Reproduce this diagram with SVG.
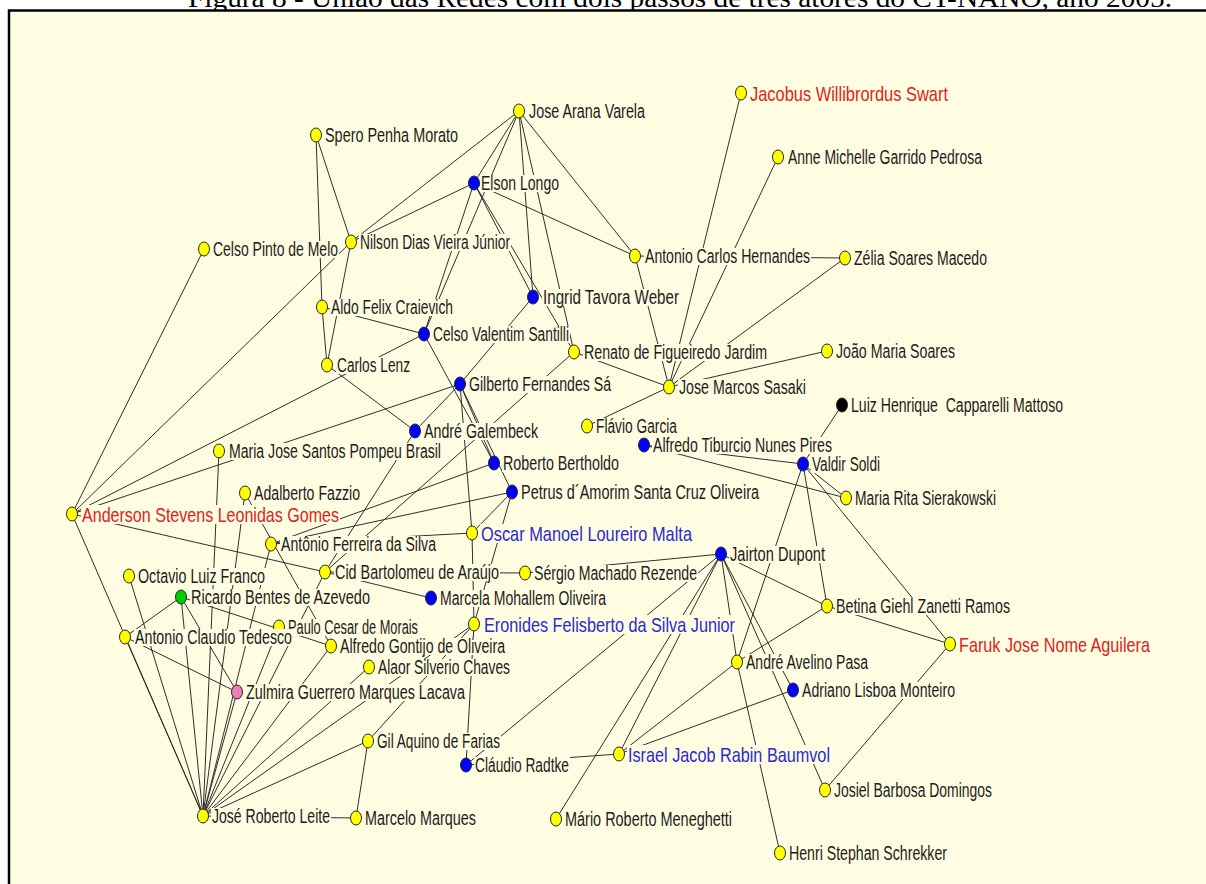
<svg xmlns="http://www.w3.org/2000/svg" width="1206" height="884" viewBox="0 0 1206 884">
<style>
.e line{stroke:#2e2e2e;stroke-width:1}
ellipse{stroke:#2a2a2a;stroke-width:1}
.y{fill:#ffff00}.b{fill:#0000ff}.g{fill:#00cc00}.p{fill:#ea7fba}.k{fill:#000}
rect.bg{fill:#fffde1}
text.l{font-family:"Liberation Sans",Arial,sans-serif;font-size:20px;fill:#1c1c1c}
text.r{fill:#e02222;font-size:21px}
text.u{fill:#2a2ad2;font-size:21px}
</style>
<rect x="0" y="0" width="1206" height="884" fill="#ffffff"/>
<text x="188" y="7" font-family="Liberation Serif,serif" font-size="28" textLength="984" lengthAdjust="spacingAndGlyphs" fill="#000">Figura 8 - União das Redes com dois passos de três atores do CT-NANO, ano 2005.</text>
<rect x="9" y="10.5" width="1210" height="890" fill="#fffde1" stroke="#000" stroke-width="2.5"/>
<g class="e" id="connectors">
<line x1="519" y1="111" x2="351" y2="242"/>
<line x1="519" y1="111" x2="474" y2="183"/>
<line x1="519" y1="111" x2="424" y2="334"/>
<line x1="519" y1="111" x2="533" y2="297"/>
<line x1="519" y1="111" x2="574" y2="352"/>
<line x1="519" y1="111" x2="635" y2="256"/>
<line x1="316" y1="135" x2="351" y2="242"/>
<line x1="316" y1="135" x2="322" y2="307"/>
<line x1="322" y1="307" x2="327" y2="365"/>
<line x1="351" y1="242" x2="327" y2="365"/>
<line x1="351" y1="242" x2="474" y2="183"/>
<line x1="351" y1="242" x2="72" y2="514"/>
<line x1="204" y1="249" x2="72" y2="514"/>
<line x1="474" y1="183" x2="424" y2="334"/>
<line x1="474" y1="183" x2="533" y2="297"/>
<line x1="474" y1="183" x2="574" y2="352"/>
<line x1="474" y1="183" x2="635" y2="256"/>
<line x1="741" y1="93" x2="669" y2="387"/>
<line x1="778" y1="157" x2="669" y2="387"/>
<line x1="845" y1="258" x2="669" y2="387"/>
<line x1="635" y1="256" x2="845" y2="258"/>
<line x1="635" y1="256" x2="669" y2="387"/>
<line x1="574" y1="352" x2="669" y2="387"/>
<line x1="669" y1="387" x2="827" y2="351"/>
<line x1="669" y1="387" x2="587" y2="426"/>
<line x1="533" y1="297" x2="460" y2="384"/>
<line x1="574" y1="352" x2="325" y2="572"/>
<line x1="322" y1="307" x2="424" y2="334"/>
<line x1="72" y1="514" x2="424" y2="334"/>
<line x1="72" y1="514" x2="460" y2="384"/>
<line x1="327" y1="365" x2="415" y2="431"/>
<line x1="460" y1="384" x2="415" y2="431"/>
<line x1="424" y1="334" x2="494" y2="463"/>
<line x1="460" y1="384" x2="494" y2="463"/>
<line x1="460" y1="384" x2="512" y2="492"/>
<line x1="460" y1="384" x2="472" y2="533"/>
<line x1="472" y1="533" x2="474" y2="624"/>
<line x1="474" y1="624" x2="466" y2="765"/>
<line x1="512" y1="492" x2="474" y2="624"/>
<line x1="512" y1="492" x2="472" y2="533"/>
<line x1="271" y1="544" x2="472" y2="533"/>
<line x1="271" y1="544" x2="512" y2="492"/>
<line x1="271" y1="544" x2="494" y2="463"/>
<line x1="415" y1="431" x2="325" y2="572"/>
<line x1="72" y1="514" x2="325" y2="572"/>
<line x1="72" y1="514" x2="203" y2="816"/>
<line x1="125" y1="637" x2="203" y2="816"/>
<line x1="219" y1="451" x2="203" y2="816"/>
<line x1="245" y1="493" x2="203" y2="816"/>
<line x1="245" y1="493" x2="331" y2="646"/>
<line x1="129" y1="576" x2="203" y2="816"/>
<line x1="181" y1="597" x2="125" y2="637"/>
<line x1="181" y1="597" x2="203" y2="816"/>
<line x1="181" y1="597" x2="237" y2="692"/>
<line x1="181" y1="597" x2="331" y2="646"/>
<line x1="271" y1="544" x2="203" y2="816"/>
<line x1="203" y1="816" x2="325" y2="572"/>
<line x1="125" y1="637" x2="237" y2="692"/>
<line x1="237" y1="692" x2="203" y2="816"/>
<line x1="279" y1="627" x2="203" y2="816"/>
<line x1="203" y1="816" x2="331" y2="646"/>
<line x1="203" y1="816" x2="369" y2="667"/>
<line x1="203" y1="816" x2="474" y2="624"/>
<line x1="203" y1="816" x2="368" y2="741"/>
<line x1="203" y1="816" x2="356" y2="818"/>
<line x1="368" y1="741" x2="356" y2="818"/>
<line x1="368" y1="741" x2="474" y2="624"/>
<line x1="325" y1="572" x2="431" y2="598"/>
<line x1="325" y1="572" x2="525" y2="573"/>
<line x1="525" y1="573" x2="721" y2="554"/>
<line x1="466" y1="765" x2="721" y2="554"/>
<line x1="466" y1="765" x2="619" y2="754"/>
<line x1="721" y1="554" x2="827" y2="606"/>
<line x1="721" y1="554" x2="556" y2="819"/>
<line x1="721" y1="554" x2="619" y2="754"/>
<line x1="721" y1="554" x2="737" y2="662"/>
<line x1="721" y1="554" x2="793" y2="690"/>
<line x1="721" y1="554" x2="825" y2="790"/>
<line x1="737" y1="662" x2="780" y2="853"/>
<line x1="737" y1="662" x2="827" y2="606"/>
<line x1="803" y1="464" x2="737" y2="662"/>
<line x1="644" y1="445" x2="846" y2="498"/>
<line x1="644" y1="445" x2="803" y2="464"/>
<line x1="803" y1="464" x2="846" y2="498"/>
<line x1="803" y1="464" x2="950" y2="644"/>
<line x1="803" y1="464" x2="827" y2="606"/>
<line x1="842" y1="405" x2="803" y2="464"/>
<line x1="827" y1="606" x2="950" y2="644"/>
<line x1="950" y1="644" x2="825" y2="790"/>
<line x1="793" y1="690" x2="619" y2="754"/>
<line x1="737" y1="662" x2="619" y2="754"/>
</g>
<g id="jav"><rect class="bg" x="528" y="103" width="118" height="17"/><ellipse class="y" cx="519" cy="111" rx="5.5" ry="7"/><text class="l" x="529" y="118" textLength="116" lengthAdjust="spacingAndGlyphs">Jose Arana Varela</text></g>
<g id="spm"><rect class="bg" x="324" y="127" width="135" height="17"/><ellipse class="y" cx="316" cy="135" rx="5.5" ry="7"/><text class="l" x="325" y="142" textLength="133" lengthAdjust="spacingAndGlyphs">Spero Penha Morato</text></g>
<g id="jws"><rect class="bg" x="749" y="85" width="200" height="17"/><ellipse class="y" cx="741" cy="93" rx="5.5" ry="7"/><text class="l r" x="750" y="101" textLength="198" lengthAdjust="spacingAndGlyphs">Jacobus Willibrordus Swart</text></g>
<g id="amg"><rect class="bg" x="787" y="149" width="196" height="17"/><ellipse class="y" cx="778" cy="157" rx="5.5" ry="7"/><text class="l" x="788" y="164" textLength="194" lengthAdjust="spacingAndGlyphs">Anne Michelle Garrido Pedrosa</text></g>
<g id="elo"><rect class="bg" x="480" y="175" width="80" height="17"/><ellipse class="b" cx="474" cy="183" rx="5.5" ry="7"/><text class="l" x="481" y="190" textLength="78" lengthAdjust="spacingAndGlyphs">Elson Longo</text></g>
<g id="cpm"><rect class="bg" x="212" y="241" width="127" height="17"/><ellipse class="y" cx="204" cy="249" rx="5.5" ry="7"/><text class="l" x="213" y="256" textLength="125" lengthAdjust="spacingAndGlyphs">Celso Pinto de Melo</text></g>
<g id="ndv"><rect class="bg" x="359" y="234" width="152" height="17"/><ellipse class="y" cx="351" cy="242" rx="5.5" ry="7"/><text class="l" x="360" y="249" textLength="150" lengthAdjust="spacingAndGlyphs">Nilson Dias Vieira Júnior</text></g>
<g id="ach"><rect class="bg" x="644" y="248" width="167" height="17"/><ellipse class="y" cx="635" cy="256" rx="5.5" ry="7"/><text class="l" x="645" y="263" textLength="165" lengthAdjust="spacingAndGlyphs">Antonio Carlos Hernandes</text></g>
<g id="zsm"><rect class="bg" x="853" y="250" width="135" height="17"/><ellipse class="y" cx="845" cy="258" rx="5.5" ry="7"/><text class="l" x="854" y="265" textLength="133" lengthAdjust="spacingAndGlyphs">Zélia Soares Macedo</text></g>
<g id="itw"><rect class="bg" x="542" y="289" width="138" height="17"/><ellipse class="b" cx="533" cy="297" rx="5.5" ry="7"/><text class="l" x="543" y="304" textLength="136" lengthAdjust="spacingAndGlyphs">Ingrid Tavora Weber</text></g>
<g id="afc"><rect class="bg" x="330" y="299" width="124" height="17"/><ellipse class="y" cx="322" cy="307" rx="5.5" ry="7"/><text class="l" x="331" y="314" textLength="122" lengthAdjust="spacingAndGlyphs">Aldo Felix Craievich</text></g>
<g id="cvs"><rect class="bg" x="432" y="326" width="138" height="17"/><ellipse class="b" cx="424" cy="334" rx="5.5" ry="7"/><text class="l" x="433" y="341" textLength="136" lengthAdjust="spacingAndGlyphs">Celso Valentim Santilli</text></g>
<g id="rfj"><rect class="bg" x="583" y="344" width="185" height="17"/><ellipse class="y" cx="574" cy="352" rx="5.5" ry="7"/><text class="l" x="584" y="359" textLength="183" lengthAdjust="spacingAndGlyphs">Renato de Figueiredo Jardim</text></g>
<g id="jms"><rect class="bg" x="835" y="343" width="121" height="17"/><ellipse class="y" cx="827" cy="351" rx="5.5" ry="7"/><text class="l" x="836" y="358" textLength="119" lengthAdjust="spacingAndGlyphs">João Maria Soares</text></g>
<g id="cle"><rect class="bg" x="336" y="357" width="75" height="17"/><ellipse class="y" cx="327" cy="365" rx="5.5" ry="7"/><text class="l" x="337" y="372" textLength="73" lengthAdjust="spacingAndGlyphs">Carlos Lenz</text></g>
<g id="gfs"><rect class="bg" x="468" y="376" width="144" height="17"/><ellipse class="b" cx="460" cy="384" rx="5.5" ry="7"/><text class="l" x="469" y="391" textLength="142" lengthAdjust="spacingAndGlyphs">Gilberto Fernandes Sá</text></g>
<g id="jmsa"><rect class="bg" x="678" y="379" width="129" height="17"/><ellipse class="y" cx="669" cy="387" rx="5.5" ry="7"/><text class="l" x="679" y="394" textLength="127" lengthAdjust="spacingAndGlyphs">Jose Marcos Sasaki</text></g>
<g id="lhc"><rect class="bg" x="850" y="397" width="214" height="17"/><ellipse class="k" cx="842" cy="405" rx="5.5" ry="7"/><text class="l" x="851" y="412" textLength="212" lengthAdjust="spacingAndGlyphs" xml:space="preserve">Luiz Henrique  Capparelli Mattoso</text></g>
<g id="fga"><rect class="bg" x="595" y="418" width="83" height="17"/><ellipse class="y" cx="587" cy="426" rx="5.5" ry="7"/><text class="l" x="596" y="433" textLength="81" lengthAdjust="spacingAndGlyphs">Flávio Garcia</text></g>
<g id="aga"><rect class="bg" x="423" y="423" width="116" height="17"/><ellipse class="b" cx="415" cy="431" rx="5.5" ry="7"/><text class="l" x="424" y="438" textLength="114" lengthAdjust="spacingAndGlyphs">André Galembeck</text></g>
<g id="atn"><rect class="bg" x="652" y="437" width="181" height="17"/><ellipse class="b" cx="644" cy="445" rx="5.5" ry="7"/><text class="l" x="653" y="452" textLength="179" lengthAdjust="spacingAndGlyphs">Alfredo Tiburcio Nunes Pires</text></g>
<g id="mjs"><rect class="bg" x="228" y="443" width="214" height="17"/><ellipse class="y" cx="219" cy="451" rx="5.5" ry="7"/><text class="l" x="229" y="458" textLength="212" lengthAdjust="spacingAndGlyphs">Maria Jose Santos Pompeu Brasil</text></g>
<g id="rbe"><rect class="bg" x="502" y="455" width="118" height="17"/><ellipse class="b" cx="494" cy="463" rx="5.5" ry="7"/><text class="l" x="503" y="470" textLength="116" lengthAdjust="spacingAndGlyphs">Roberto Bertholdo</text></g>
<g id="vso"><rect class="bg" x="811" y="456" width="70" height="17"/><ellipse class="b" cx="803" cy="464" rx="5.5" ry="7"/><text class="l" x="812" y="471" textLength="68" lengthAdjust="spacingAndGlyphs">Valdir Soldi</text></g>
<g id="afa"><rect class="bg" x="253" y="485" width="108" height="17"/><ellipse class="y" cx="245" cy="493" rx="5.5" ry="7"/><text class="l" x="254" y="500" textLength="106" lengthAdjust="spacingAndGlyphs">Adalberto Fazzio</text></g>
<g id="pas"><rect class="bg" x="520" y="484" width="240" height="17"/><ellipse class="b" cx="512" cy="492" rx="5.5" ry="7"/><text class="l" x="521" y="499" textLength="238" lengthAdjust="spacingAndGlyphs">Petrus d´Amorim Santa Cruz Oliveira</text></g>
<g id="mrs"><rect class="bg" x="854" y="490" width="143" height="17"/><ellipse class="y" cx="846" cy="498" rx="5.5" ry="7"/><text class="l" x="855" y="505" textLength="141" lengthAdjust="spacingAndGlyphs">Maria Rita Sierakowski</text></g>
<g id="asl"><rect class="bg" x="81" y="505" width="259" height="19"/><ellipse class="y" cx="72" cy="514" rx="5.5" ry="7"/><text class="l r" x="82" y="522" textLength="257" lengthAdjust="spacingAndGlyphs">Anderson Stevens Leonidas Gomes</text></g>
<g id="oml"><rect class="bg" x="480" y="524" width="213" height="19"/><ellipse class="y" cx="472" cy="533" rx="5.5" ry="7"/><text class="l u" x="481" y="541" textLength="211" lengthAdjust="spacingAndGlyphs">Oscar Manoel Loureiro Malta</text></g>
<g id="afs"><rect class="bg" x="280" y="536" width="157" height="17"/><ellipse class="y" cx="271" cy="544" rx="5.5" ry="7"/><text class="l" x="281" y="551" textLength="155" lengthAdjust="spacingAndGlyphs">Antônio Ferreira da Silva</text></g>
<g id="jdu"><rect class="bg" x="729" y="546" width="97" height="17"/><ellipse class="b" cx="721" cy="554" rx="5.5" ry="7"/><text class="l" x="730" y="561" textLength="95" lengthAdjust="spacingAndGlyphs">Jairton Dupont</text></g>
<g id="olf"><rect class="bg" x="137" y="568" width="129" height="17"/><ellipse class="y" cx="129" cy="576" rx="5.5" ry="7"/><text class="l" x="138" y="583" textLength="127" lengthAdjust="spacingAndGlyphs">Octavio Luiz Franco</text></g>
<g id="cba"><rect class="bg" x="334" y="564" width="166" height="17"/><ellipse class="y" cx="325" cy="572" rx="5.5" ry="7"/><text class="l" x="335" y="579" textLength="164" lengthAdjust="spacingAndGlyphs">Cid Bartolomeu de Araújo</text></g>
<g id="smr"><rect class="bg" x="533" y="565" width="165" height="17"/><ellipse class="y" cx="525" cy="573" rx="5.5" ry="7"/><text class="l" x="534" y="580" textLength="163" lengthAdjust="spacingAndGlyphs">Sérgio Machado Rezende</text></g>
<g id="rba"><rect class="bg" x="190" y="589" width="181" height="17"/><ellipse class="g" cx="181" cy="597" rx="5.5" ry="7"/><text class="l" x="191" y="604" textLength="179" lengthAdjust="spacingAndGlyphs">Ricardo Bentes de Azevedo</text></g>
<g id="mmo"><rect class="bg" x="439" y="590" width="168" height="17"/><ellipse class="b" cx="431" cy="598" rx="5.5" ry="7"/><text class="l" x="440" y="605" textLength="166" lengthAdjust="spacingAndGlyphs">Marcela Mohallem Oliveira</text></g>
<g id="bgz"><rect class="bg" x="835" y="598" width="176" height="17"/><ellipse class="y" cx="827" cy="606" rx="5.5" ry="7"/><text class="l" x="836" y="613" textLength="174" lengthAdjust="spacingAndGlyphs">Betina Giehl Zanetti Ramos</text></g>
<g id="pcm"><rect class="bg" x="287" y="619" width="132" height="17"/><ellipse class="y" cx="279" cy="627" rx="5.5" ry="7"/><text class="l" x="288" y="634" textLength="130" lengthAdjust="spacingAndGlyphs">Paulo Cesar de Morais</text></g>
<g id="efs"><rect class="bg" x="483" y="615" width="253" height="19"/><ellipse class="y" cx="474" cy="624" rx="5.5" ry="7"/><text class="l u" x="484" y="632" textLength="251" lengthAdjust="spacingAndGlyphs">Eronides Felisberto da Silva Junior</text></g>
<g id="act"><rect class="bg" x="134" y="629" width="159" height="17"/><ellipse class="y" cx="125" cy="637" rx="5.5" ry="7"/><text class="l" x="135" y="644" textLength="157" lengthAdjust="spacingAndGlyphs">Antonio Claudio Tedesco</text></g>
<g id="ago"><rect class="bg" x="339" y="638" width="167" height="17"/><ellipse class="y" cx="331" cy="646" rx="5.5" ry="7"/><text class="l" x="340" y="653" textLength="165" lengthAdjust="spacingAndGlyphs">Alfredo Gontijo de Oliveira</text></g>
<g id="fjn"><rect class="bg" x="958" y="635" width="193" height="19"/><ellipse class="y" cx="950" cy="644" rx="5.5" ry="7"/><text class="l r" x="959" y="652" textLength="191" lengthAdjust="spacingAndGlyphs">Faruk Jose Nome Aguilera</text></g>
<g id="asc"><rect class="bg" x="377" y="659" width="134" height="17"/><ellipse class="y" cx="369" cy="667" rx="5.5" ry="7"/><text class="l" x="378" y="674" textLength="132" lengthAdjust="spacingAndGlyphs">Alaor Silverio Chaves</text></g>
<g id="aap"><rect class="bg" x="745" y="654" width="124" height="17"/><ellipse class="y" cx="737" cy="662" rx="5.5" ry="7"/><text class="l" x="746" y="669" textLength="122" lengthAdjust="spacingAndGlyphs">André Avelino Pasa</text></g>
<g id="zgm"><rect class="bg" x="245" y="684" width="221" height="17"/><ellipse class="p" cx="237" cy="692" rx="5.5" ry="7"/><text class="l" x="246" y="699" textLength="219" lengthAdjust="spacingAndGlyphs">Zulmira Guerrero Marques Lacava</text></g>
<g id="alm"><rect class="bg" x="801" y="682" width="155" height="17"/><ellipse class="b" cx="793" cy="690" rx="5.5" ry="7"/><text class="l" x="802" y="697" textLength="153" lengthAdjust="spacingAndGlyphs">Adriano Lisboa Monteiro</text></g>
<g id="gaf"><rect class="bg" x="376" y="733" width="125" height="17"/><ellipse class="y" cx="368" cy="741" rx="5.5" ry="7"/><text class="l" x="377" y="748" textLength="123" lengthAdjust="spacingAndGlyphs">Gil Aquino de Farias</text></g>
<g id="ijr"><rect class="bg" x="627" y="745" width="204" height="19"/><ellipse class="y" cx="619" cy="754" rx="5.5" ry="7"/><text class="l u" x="628" y="762" textLength="202" lengthAdjust="spacingAndGlyphs">Israel Jacob Rabin Baumvol</text></g>
<g id="cra"><rect class="bg" x="474" y="757" width="96" height="17"/><ellipse class="b" cx="466" cy="765" rx="5.5" ry="7"/><text class="l" x="475" y="772" textLength="94" lengthAdjust="spacingAndGlyphs">Cláudio Radtke</text></g>
<g id="jbd"><rect class="bg" x="833" y="782" width="160" height="17"/><ellipse class="y" cx="825" cy="790" rx="5.5" ry="7"/><text class="l" x="834" y="797" textLength="158" lengthAdjust="spacingAndGlyphs">Josiel Barbosa Domingos</text></g>
<g id="jrl"><rect class="bg" x="211" y="808" width="120" height="17"/><ellipse class="y" cx="203" cy="816" rx="5.5" ry="7"/><text class="l" x="212" y="823" textLength="118" lengthAdjust="spacingAndGlyphs">José Roberto Leite</text></g>
<g id="mma"><rect class="bg" x="364" y="810" width="113" height="17"/><ellipse class="y" cx="356" cy="818" rx="5.5" ry="7"/><text class="l" x="365" y="825" textLength="111" lengthAdjust="spacingAndGlyphs">Marcelo Marques</text></g>
<g id="mrm"><rect class="bg" x="564" y="811" width="169" height="17"/><ellipse class="y" cx="556" cy="819" rx="5.5" ry="7"/><text class="l" x="565" y="826" textLength="167" lengthAdjust="spacingAndGlyphs">Mário Roberto Meneghetti</text></g>
<g id="hss"><rect class="bg" x="788" y="845" width="160" height="17"/><ellipse class="y" cx="780" cy="853" rx="5.5" ry="7"/><text class="l" x="789" y="860" textLength="158" lengthAdjust="spacingAndGlyphs">Henri Stephan Schrekker</text></g>
</svg>
